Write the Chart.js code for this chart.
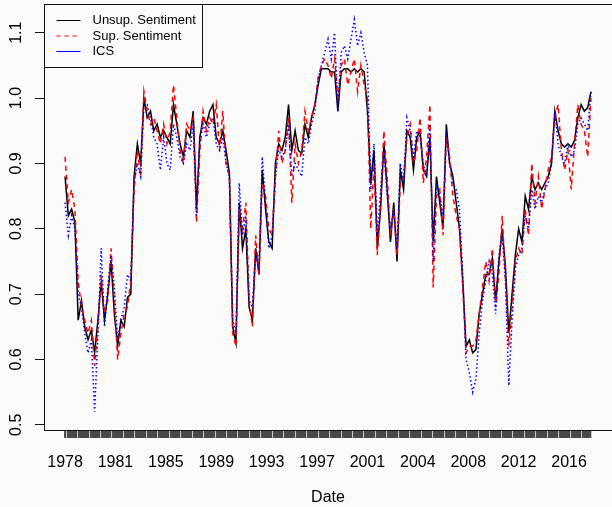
<!DOCTYPE html>
<html>
<head>
<meta charset="utf-8">
<script src="https://cdn.jsdelivr.net/npm/chart.js@4.4.1/dist/chart.umd.min.js"></script>
<style>
  html, body { margin: 0; padding: 0; background: #fafafa; }
  canvas { display: block; }
</style>
</head>
<body>
<canvas id="chart" width="612" height="507"></canvas>
<script>
// monthly series from Jan 1978, every 3rd month
const stepMonths = 3;
const xTickEvery = 46; // months between year labels
const xTickLabels = ['1978', '1981', '1985', '1989', '1993', '1997', '2001', '2004', '2008', '2012', '2016'];
const yTicks = [0.5, 0.6, 0.7, 0.8, 0.9, 1.0, 1.1];

const unsup = [
  0.88, 0.82, 0.83, 0.81, 0.66, 0.69, 0.65, 0.63, 0.645, 0.61,
  0.66, 0.72, 0.66, 0.70, 0.75, 0.67, 0.62, 0.66, 0.65, 0.695,
  0.70, 0.88, 0.93, 0.90, 1.00, 0.97, 0.98, 0.95, 0.96, 0.94,
  0.95, 0.94, 0.93, 0.99, 0.96, 0.93, 0.91, 0.95, 0.94, 0.98,
  0.83, 0.94, 0.97, 0.96, 0.98, 0.99, 0.94, 0.93, 0.95, 0.92,
  0.885, 0.65, 0.625, 0.84, 0.77, 0.80, 0.68, 0.66, 0.77, 0.73,
  0.89, 0.83, 0.78, 0.77, 0.90, 0.93, 0.92, 0.94, 0.99, 0.92,
  0.95, 0.92, 0.915, 0.96, 0.94, 0.97, 0.99, 1.02, 1.045, 1.045,
  1.045, 1.04, 1.04, 0.98, 1.04, 1.045, 1.045, 1.04, 1.045, 1.04,
  1.045, 1.04, 0.98, 0.87, 0.92, 0.77, 0.83, 0.93, 0.86, 0.78,
  0.84, 0.75, 0.89, 0.86, 0.95, 0.94, 0.89, 0.94, 0.95, 0.89,
  0.88, 0.94, 0.78, 0.88, 0.84, 0.80, 0.96, 0.90, 0.88, 0.84,
  0.80, 0.72, 0.62, 0.63, 0.61, 0.615, 0.67, 0.70, 0.73, 0.73,
  0.755, 0.69, 0.75, 0.80, 0.74, 0.64, 0.70, 0.76, 0.80, 0.78,
  0.85, 0.83, 0.88, 0.86, 0.87, 0.86, 0.87, 0.88, 0.90, 0.98,
  0.95, 0.93, 0.925, 0.93, 0.925, 0.935, 0.97, 0.99, 0.98, 0.985,
  1.01
];

const sup = [
  0.91, 0.84, 0.86, 0.83, 0.72, 0.68, 0.66, 0.64, 0.66, 0.59,
  0.65, 0.73, 0.67, 0.69, 0.77, 0.69, 0.60, 0.64, 0.67, 0.68,
  0.72, 0.86, 0.92, 0.88, 1.01, 0.98, 0.96, 0.97, 0.95, 0.93,
  0.96, 0.93, 0.95, 1.02, 0.97, 0.92, 0.90, 0.96, 0.95, 0.97,
  0.81, 0.92, 0.98, 0.95, 0.97, 0.96, 0.99, 0.92, 0.98, 0.90,
  0.88, 0.64, 0.62, 0.83, 0.80, 0.84, 0.69, 0.65, 0.79, 0.73,
  0.87, 0.85, 0.80, 0.79, 0.88, 0.95, 0.90, 0.92, 0.97, 0.84,
  0.93, 0.90, 0.92, 0.98, 0.95, 0.97, 0.99, 1.03, 1.05, 1.06,
  1.05, 1.03, 1.06, 1.00, 1.05, 1.06, 1.02, 1.04, 1.06, 1.01,
  1.05, 1.02, 1.00, 0.80, 0.90, 0.76, 0.84, 0.95, 0.88, 0.79,
  0.83, 0.76, 0.87, 0.88, 0.94, 0.96, 0.90, 0.92, 0.97, 0.87,
  0.91, 0.99, 0.71, 0.85, 0.86, 0.79, 0.94, 0.91, 0.85, 0.82,
  0.80, 0.71, 0.61, 0.62, 0.62, 0.63, 0.67, 0.71, 0.75, 0.72,
  0.77, 0.68, 0.73, 0.82, 0.72, 0.62, 0.68, 0.75, 0.77, 0.76,
  0.83, 0.79, 0.90, 0.84, 0.88, 0.83, 0.86, 0.89, 0.91, 0.97,
  0.99, 0.92, 0.89, 0.92, 0.86, 0.93, 0.99, 0.96, 0.95, 0.91,
  1.00
];

const ics = [
  0.84, 0.79, 0.82, 0.80, 0.70, 0.68, 0.64, 0.61, 0.63, 0.52,
  0.64, 0.77, 0.65, 0.71, 0.76, 0.71, 0.63, 0.66, 0.68, 0.73,
  0.72, 0.87, 0.90, 0.88, 0.99, 0.99, 0.97, 0.94, 0.93, 0.89,
  0.94, 0.90, 0.89, 0.96, 0.94, 0.91, 0.90, 0.93, 0.92, 0.96,
  0.82, 0.93, 0.96, 0.94, 0.96, 0.97, 0.93, 0.92, 0.94, 0.90,
  0.88, 0.66, 0.64, 0.87, 0.79, 0.82, 0.69, 0.68, 0.76, 0.74,
  0.91, 0.84, 0.77, 0.79, 0.88, 0.92, 0.91, 0.92, 0.96, 0.88,
  0.90, 0.89, 0.88, 0.94, 0.93, 0.96, 0.98, 1.03, 1.05, 1.07,
  1.09, 1.06, 1.10, 0.98, 1.07, 1.08, 1.06, 1.09, 1.12, 1.08,
  1.10, 1.07, 1.05, 0.86, 0.93, 0.79, 0.86, 0.92, 0.85, 0.80,
  0.83, 0.77, 0.90, 0.87, 0.97, 0.95, 0.91, 0.95, 0.94, 0.90,
  0.88, 0.96, 0.75, 0.87, 0.85, 0.82, 0.95, 0.90, 0.87, 0.86,
  0.83, 0.73, 0.60, 0.58, 0.55, 0.57, 0.64, 0.69, 0.72, 0.75,
  0.73, 0.67, 0.76, 0.79, 0.72, 0.56, 0.66, 0.74, 0.76, 0.77,
  0.82, 0.80, 0.86, 0.83, 0.85, 0.84, 0.86, 0.87, 0.90, 0.98,
  0.93, 0.91, 0.90, 0.93, 0.91, 0.92, 0.96, 0.97, 0.96, 0.95,
  1.01
];

const months = unsup.map((_, k) => k * stepMonths);
const lastMonth = months[months.length - 1];
const toPoints = arr => arr.map((v, k) => ({ x: months[k], y: v }));

const FONT = '"Liberation Sans", Arial, Helvetica, sans-serif';

// R-style extras: rotated y labels, box around the plot, legend
const rDecor = {
  id: 'rDecor',
  afterDraw(chart) {
    const ctx = chart.ctx;
    const a = chart.chartArea;
    const ys = chart.scales.y;
    ctx.save();

    ctx.fillStyle = '#000';
    ctx.font = '16px ' + FONT;
    ctx.textAlign = 'center';
    ctx.textBaseline = 'middle';
    yTicks.forEach(v => {
      ctx.save();
      ctx.translate(17, ys.getPixelForValue(v));
      ctx.rotate(-Math.PI / 2);
      ctx.fillText(v.toFixed(1), 0, 0);
      ctx.restore();
    });

    ctx.strokeStyle = '#111';
    ctx.lineWidth = 1;
    ctx.strokeRect(a.left + 0.5, a.top + 0.5, a.right - a.left, a.bottom - a.top);

    // legend box
    const lx = a.left + 0.5, ly = a.top + 0.5, lw = 158, lh = 63;
    ctx.fillStyle = '#fafafa';
    ctx.fillRect(lx, ly, lw, lh);
    ctx.strokeStyle = '#111';
    ctx.strokeRect(lx, ly, lw, lh);
    ctx.font = '13px ' + FONT;
    ctx.textAlign = 'left';
    chart.data.datasets.forEach((ds, k) => {
      const yy = ly + 16 + k * 15.5;
      ctx.beginPath();
      ctx.strokeStyle = ds.legendColor;
      ctx.lineWidth = 1;
      ctx.setLineDash(ds.legendDash);
      ctx.moveTo(lx + 12, yy);
      ctx.lineTo(lx + 36, yy);
      ctx.stroke();
      ctx.setLineDash([]);
      ctx.fillStyle = '#000';
      ctx.fillText(ds.label, lx + 48, yy);
    });
    ctx.restore();
  }
};

new Chart(document.getElementById('chart'), {
  type: 'line',
  data: {
    datasets: [
      { label: 'Unsup. Sentiment', data: toPoints(unsup), borderColor: '#000000', borderWidth: 1.5, borderDash: [], legendColor: '#000000', legendDash: [], order: 3 },
      { label: 'Sup. Sentiment', data: toPoints(sup), borderColor: '#ff0000', borderWidth: 1.5, borderDash: [5, 4], legendColor: '#ff0000', legendDash: [4, 4], order: 2 },
      { label: 'ICS', data: toPoints(ics), borderColor: '#0000ff', borderWidth: 1.5, borderDash: [1.5, 2.5], legendColor: '#0000ff', legendDash: [], order: 1 }
    ]
  },
  options: {
    responsive: false,
    animation: false,
    layout: { padding: { top: 4, right: -7, left: 0, bottom: 0 } },
    elements: { point: { radius: 0 }, line: { tension: 0 } },
    plugins: { legend: { display: false }, tooltip: { enabled: false } },
    scales: {
      x: {
        type: 'linear',
        min: -19.2,
        max: lastMonth + 19.2,
        afterBuildTicks(s) {
          s.ticks = Array.from({ length: lastMonth + 1 }, (_, i) => ({ value: i }));
        },
        afterFit(s) { s.height = 77; },
        border: { display: false },
        grid: { drawOnChartArea: false, drawTicks: true, tickLength: 8, color: 'rgba(40,40,40,0.8)', lineWidth: 1.3 },
        ticks: {
          autoSkip: false, maxRotation: 0, minRotation: 0, padding: 15,
          color: '#000', font: { size: 16, family: FONT },
          callback: v => (v % xTickEvery === 0 ? xTickLabels[v / xTickEvery] : '')
        },
        title: { display: true, text: 'Date', color: '#000', font: { size: 16, family: FONT }, padding: { top: 0, bottom: 0 } }
      },
      y: {
        min: 0.492,
        max: 1.144,
        afterBuildTicks(s) { s.ticks = yTicks.map(v => ({ value: v })); },
        afterFit(s) { s.width = 44; },
        border: { display: false },
        grid: { drawOnChartArea: false, drawTicks: true, tickLength: 9, color: '#111', lineWidth: 1 },
        ticks: { display: false }
      }
    }
  },
  plugins: [rDecor]
});
</script>
</body>
</html>
